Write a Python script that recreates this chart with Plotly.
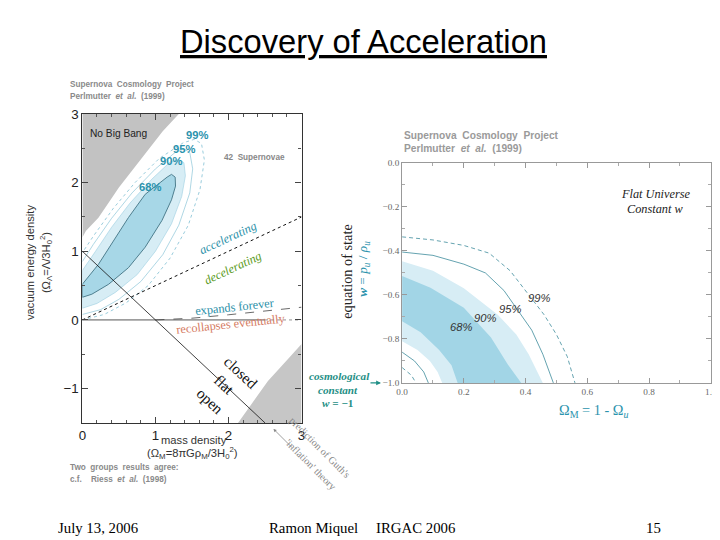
import plotly.graph_objects as go

W, H = 720, 540
# the photographed page shows the figure shifted and slightly shrunk:
# shown = SHIFT + SCALE * figure_pixel ; positions below are given in shown pixels
SHIFT, SCALE = 14.0, 0.978
SANS = "Liberation Sans, Arial, sans-serif"
SERIF = "Liberation Serif, Times New Roman, serif"

# ---------------- Left panel data (Omega_M , Omega_Lambda) ----------------
left_xticks = [0, 1, 2, 3]
left_yticks = [-1, 0, 1, 2, 3]

no_big_bang_om = [0.0, 0.05, 0.22, 0.50, 0.86, 1.10, 1.32, 0.0]
no_big_bang_ol = [1.20, 1.30, 1.49, 1.93, 2.42, 2.75, 3.00, 3.00]

young_om = [2.13, 2.35, 2.54, 2.78, 3.0, 3.0]
young_ol = [-1.5, -1.17, -0.89, -0.61, -0.35, -1.5]

c68_om = [0.0, 0.13, 0.36, 0.63, 0.86, 1.09, 1.22, 1.275, 1.27, 1.22, 1.16, 0.86, 0.63, 0.40, 0.22, 0.0, 0.0]
c68_ol = [0.33, 0.375, 0.52, 0.76, 1.06, 1.45, 1.75, 1.95, 2.08, 2.12, 2.08, 1.83, 1.49, 1.10, 0.81, 0.52, 0.33]

c90_om = [0.0, 0.20, 0.45, 0.75, 1.00, 1.22, 1.36, 1.41, 1.39, 1.32, 1.20, 0.95, 0.65, 0.40, 0.18, 0.0, 0.0]
c90_ol = [0.17, 0.24, 0.40, 0.66, 1.00, 1.40, 1.80, 2.10, 2.29, 2.34, 2.30, 2.05, 1.70, 1.35, 1.00, 0.72, 0.17]

c95_om = [0.0, 0.25, 0.50, 0.80, 1.10, 1.32, 1.47, 1.51, 1.47, 1.39, 1.27, 1.00, 0.68, 0.40, 0.15, 0.0]
c95_ol = [0.08, 0.15, 0.30, 0.56, 0.95, 1.38, 1.85, 2.20, 2.44, 2.49, 2.44, 2.20, 1.85, 1.48, 1.10, 0.85]

c99_om = [0.0, 0.30, 0.60, 0.90, 1.20, 1.45, 1.61, 1.67, 1.63, 1.53, 1.38, 1.05, 0.72, 0.42, 0.15, 0.0]
c99_ol = [0.0, 0.08, 0.25, 0.50, 0.90, 1.38, 1.90, 2.33, 2.57, 2.63, 2.58, 2.35, 2.00, 1.62, 1.22, 0.98]

flat_om = [0.0, 2.5]
flat_ol = [1.0, -1.5]
accel_om = [0.0, 3.0]
accel_ol = [0.0, 1.5]
zero_solid_om = [0.0, 2.5]
zero_solid_ol = [0.0, 0.0]
zero_dot_om = [2.5, 3.0]
zero_dot_ol = [0.0, 0.0]
expand_om = [1.0, 1.5, 2.0, 2.5, 3.0]
expand_ol = [0.0, 0.025, 0.075, 0.125, 0.185]

# ---------------- Right panel data (Omega_M , w) ----------------
right_xticks = [0.0, 0.2, 0.4, 0.6, 0.8, 1.0]
right_xtext = ["0.0", "0.2", "0.4", "0.6", "0.8", "1.0"]
right_yticks = [0.0, -0.2, -0.4, -0.6, -0.8, -1.0]
right_ytext = ["0.0", "\u22120.2", "\u22120.4", "\u22120.6", "\u22120.8", "\u22121.0"]

w90_out_om = [0.0, 0.10, 0.20, 0.31, 0.37, 0.41, 0.456]
w90_out_w = [-0.447, -0.49, -0.57, -0.69, -0.78, -0.87, -1.0]
w90_in_om = [0.0, 0.05, 0.09, 0.115, 0.13]
w90_in_w = [-0.81, -0.85, -0.90, -0.95, -1.0]

w68_out_om = [0.0, 0.092, 0.20, 0.288, 0.342, 0.386]
w68_out_w = [-0.514, -0.567, -0.658, -0.794, -0.915, -1.0]
w68_in_om = [0.0, 0.06, 0.12, 0.16, 0.18]
w68_in_w = [-0.72, -0.77, -0.85, -0.92, -1.0]

w95_out_om = [0.0, 0.10, 0.20, 0.27, 0.33, 0.37, 0.42, 0.456, 0.49]
w95_out_w = [-0.405, -0.42, -0.46, -0.50, -0.58, -0.66, -0.76, -0.87, -1.0]
w95_in_om = [0.0, 0.04, 0.07, 0.085]
w95_in_w = [-0.86, -0.90, -0.95, -1.0]

w99_out_om = [0.0, 0.10, 0.20, 0.282, 0.35, 0.41, 0.46, 0.50, 0.535, 0.56]
w99_out_w = [-0.336, -0.35, -0.375, -0.41, -0.49, -0.60, -0.69, -0.78, -0.88, -1.0]
w99_in_om = [0.0, 0.03, 0.045]
w99_in_w = [-0.93, -0.965, -1.0]

right_labels = ["68%", "90%", "95%", "99%"]
right_label_om = [0.19, 0.27, 0.35, 0.445]
right_label_w = [-0.745, -0.705, -0.665, -0.615]

left_labels = ["68%", "90%", "95%", "99%"]
left_label_om = [0.92, 1.21, 1.39, 1.57]
left_label_ol = [1.94, 2.31, 2.49, 2.70]

DARK = "#a7d7e7"
LIGHT = "#d7edf5"
TEAL = "#2b93ad"

def fs(size):
    return round(size / SCALE, 1)

fig = go.Figure()

def add(x, y, xa="x", ya="y", **kw):
    fig.add_trace(go.Scatter(x=x, y=y, xaxis=xa, yaxis=ya, mode="lines",
                             hoverinfo="skip", showlegend=False, **kw))

# left panel
add(no_big_bang_om, no_big_bang_ol, fill="toself", fillcolor="#c2c2c2", line=dict(width=0))
add(young_om, young_ol, fill="toself", fillcolor="#c6c6c6", line=dict(width=0))
add(c99_om, c99_ol, line=dict(color="#7fbfd3", width=0.8, dash="dot"))
add(c95_om, c95_ol, line=dict(color="#8cc6d8", width=0.7))
add(c90_om, c90_ol, fill="toself", fillcolor=LIGHT, line=dict(color="#9ccfe0", width=0.6))
add(c68_om, c68_ol, fill="toself", fillcolor=DARK, line=dict(color="#4f7f8f", width=1.0))
add(accel_om, accel_ol, line=dict(color="#111", width=1.0, dash="dot"))
add(zero_solid_om, zero_solid_ol, line=dict(color="#555", width=1.0))
add(zero_dot_om, zero_dot_ol, line=dict(color="#777", width=0.8, dash="dot"))
add(expand_om, expand_ol, line=dict(color="#444", width=0.8, dash="dash"))
add(flat_om, flat_ol, line=dict(color="#111", width=0.8))

# right panel
add(w90_out_om + w90_in_om[::-1], w90_out_w + w90_in_w[::-1], "x2", "y2",
    fill="toself", fillcolor=LIGHT, line=dict(width=0))
add(w68_out_om + w68_in_om[::-1], w68_out_w + w68_in_w[::-1], "x2", "y2",
    fill="toself", fillcolor="#a2d5e6", line=dict(width=0))
add(w95_out_om, w95_out_w, "x2", "y2", line=dict(color="#3d8b9c", width=0.8))
add(w95_in_om, w95_in_w, "x2", "y2", line=dict(color="#3d8b9c", width=0.8))
add(w99_out_om, w99_out_w, "x2", "y2", line=dict(color="#3d8b9c", width=0.8, dash="4px,3px"))
add(w99_in_om, w99_in_w, "x2", "y2", line=dict(color="#3d8b9c", width=0.8, dash="4px,3px"))

ann = []

def P(px, py):
    fx = (px - SHIFT) / SCALE
    fy = (py - SHIFT) / SCALE
    return fx / W, 1 - fy / H

def text_px(txt, px, py, size, color="#000", family=SANS, angle=0, xanchor="center", yanchor="middle"):
    x, y = P(px, py)
    ann.append(dict(text=txt, x=x, y=y, xref="paper", yref="paper", showarrow=False,
                    font=dict(size=fs(size), color=color, family=family), textangle=angle,
                    xanchor=xanchor, yanchor=yanchor))

def text_data(txt, x, y, xr, yr, size, color="#000", family=SANS, angle=0):
    ann.append(dict(text=txt, x=x, y=y, xref=xr, yref=yr, showarrow=False,
                    font=dict(size=fs(size), color=color, family=family), textangle=angle))

# title & footer
text_px("<u>Discovery of Acceleration</u>", 362, 41, 32)
text_px("July 13, 2006", 98, 527, 14.5, family=SERIF)
text_px("Ramon Miquel", 312, 527, 14.5, family=SERIF)
text_px("IRGAC 2006", 413, 527, 14.5, family=SERIF)
text_px("15", 650, 527, 14.5, family=SERIF)

# left panel texts
text_px("<b>Supernova  Cosmology  Project</b>", 68, 84, 8, "#8a8a8a", xanchor="left")
text_px("<b>Perlmutter  <i>et  al.</i>  (1999)</b>", 68, 96, 8, "#8a8a8a", xanchor="left")
text_px("vacuum energy density", 30, 262, 11, "#333", angle=-90)
text_px("(\u03a9<sub>\u039b</sub>=\u039b/3H<sub>0</sub><sup>2</sup>)", 46, 262, 11, "#333", angle=-90)
text_px("mass density", 193, 439, 11, "#333")
text_px("(\u03a9<sub>M</sub>=8\u03c0G\u03c1<sub>M</sub>/3H<sub>0</sub><sup>2</sup>)", 192, 452, 11, "#333")
text_px("<b>Two  groups  results  agree:</b>", 68, 467, 8, "#8a8a8a", xanchor="left")
text_px("<b>c.f.    Riess  <i>et  al.</i>  (1998)</b>", 68, 479, 8, "#8a8a8a", xanchor="left")
text_px("prediction of Guth's", 318, 447, 10, "#888", family=SERIF, angle=45)
text_px("'inflation' theory", 309, 464, 10, "#888", family=SERIF, angle=45)
ax0, ay0 = P(272, 428)
ann.append(dict(text="", x=ax0, y=ay0, xref="paper", yref="paper", showarrow=True,
                ax=20, ay=20, arrowhead=2, arrowsize=0.8, arrowwidth=0.8, arrowcolor="#888"))

text_px("<b><i>cosmological</i></b>", 338, 375, 11, "#1f8f86", family=SERIF)
text_px("<b><i>constant</i></b>", 336, 389, 11, "#1f8f86", family=SERIF)
text_px("<b><i>w</i> = \u22121</b>", 336, 402, 11, "#1f8f86", family=SERIF)
ax1, ay1 = P(379, 382)
ann.append(dict(text="", x=ax1, y=ay1, xref="paper", yref="paper", showarrow=True,
                ax=-12, ay=0, arrowhead=2, arrowsize=0.8, arrowwidth=1.2, arrowcolor="#1f8f86"))

text_data("No Big Bang", 0.5, 2.71, "x", "y", 10, "#222")
text_data("<b>42  Supernovae</b>", 2.36, 2.36, "x", "y", 8, "#888")
for t, x, y in zip(left_labels, left_label_om, left_label_ol):
    text_data("<b>" + t + "</b>", x, y, "x", "y", 11, TEAL)
text_data("<i>accelerating</i>", 1.99, 1.20, "x", "y", 12, "#2a8fa8", SERIF, -25)
text_data("<i>decelerating</i>", 2.06, 0.76, "x", "y", 12, "#5a9a22", SERIF, -25)
text_data("expands forever", 2.08, 0.19, "x", "y", 12, "#2a8fa8", SERIF, -6)
text_data("recollapses eventually", 2.04, -0.06, "x", "y", 12, "#d57a62", SERIF, -6)
text_data("closed", 2.17, -0.77, "x", "y", 15, "#111", SERIF, 43)
text_data("flat", 1.94, -0.94, "x", "y", 15, "#111", SERIF, 43)
text_data("open", 1.74, -1.18, "x", "y", 15, "#111", SERIF, 43)

# right panel texts
text_px("<b>Supernova  Cosmology  Project</b>", 400, 135, 10, "#9a9a9a", xanchor="left")
text_px("<b>Perlmutter  <i>et  al.</i>  (1999)</b>", 400, 148, 10, "#9a9a9a", xanchor="left")
text_px("equation of state", 345, 270, 14, "#222", family=SERIF, angle=-90)
text_px("<b><i>w</i></b> = <i>p<sub>u</sub></i> / <i>\u03c1<sub>u</sub></i>", 362, 268, 13, TEAL, family=SERIF, angle=-90)
text_px("\u03a9<sub>M</sub> = 1 - \u03a9<sub><i>u</i></sub>", 590, 410, 14, TEAL, family=SERIF)
text_px("<i>Flat Universe</i>", 652, 193, 12, "#222", family=SERIF)
text_px("<i>Constant w</i>", 652, 208, 12, "#222", family=SERIF)
for t, x, y in zip(right_labels, right_label_om, right_label_w):
    text_data("<i>" + t + "</i>", x, y, "x2", "y2", 11, "#333")

# axes
lx0, ly1 = P(82, 113)
lx1, ly0 = P(300, 422)
rx0, ry1 = P(400, 162)
rx1, ry0 = P(707, 382)

fig.update_layout(
    width=W, height=H, margin=dict(l=0, r=0, t=0, b=0),
    paper_bgcolor="white", plot_bgcolor="white",
    annotations=ann,
    xaxis=dict(domain=[lx0, lx1], range=[0, 3], tickvals=left_xticks, ticks="inside", ticklen=6,
               showline=True, mirror="allticks", linecolor="#333", linewidth=1.2, showgrid=False,
               zeroline=False, tickfont=dict(family=SANS, size=fs(13), color="#222"),
               minor=dict(ticks="inside", dtick=0.2, ticklen=3, tickcolor="#555", showgrid=False)),
    yaxis=dict(domain=[ly0, ly1], range=[-1.5, 3], tickvals=left_yticks, ticks="inside", ticklen=6,
               showline=True, mirror="allticks", linecolor="#333", linewidth=1.2, showgrid=False,
               zeroline=False, tickfont=dict(family=SANS, size=fs(13), color="#222"),
               minor=dict(ticks="inside", dtick=0.5, ticklen=3, tickcolor="#555", showgrid=False)),
    xaxis2=dict(domain=[rx0, rx1], range=[0, 1], anchor="y2", tickvals=right_xticks, ticktext=right_xtext,
                ticks="inside", ticklen=5, showline=True, mirror="allticks", linecolor="#999",
                linewidth=1, showgrid=False, zeroline=False, tickcolor="#999",
                tickfont=dict(family=SERIF, size=fs(9), color="#666"),
                minor=dict(ticks="inside", dtick=0.1, ticklen=3, tickcolor="#aaa", showgrid=False)),
    yaxis2=dict(domain=[ry0, ry1], range=[-1, 0], anchor="x2", tickvals=right_yticks, ticktext=right_ytext,
                ticks="inside", ticklen=5, showline=True, mirror="allticks", linecolor="#999",
                linewidth=1, showgrid=False, zeroline=False, tickcolor="#999",
                tickfont=dict(family=SERIF, size=fs(9), color="#666"),
                minor=dict(ticks="inside", dtick=0.1, ticklen=3, tickcolor="#aaa", showgrid=False)),
)

fig.write_html("out.html")
